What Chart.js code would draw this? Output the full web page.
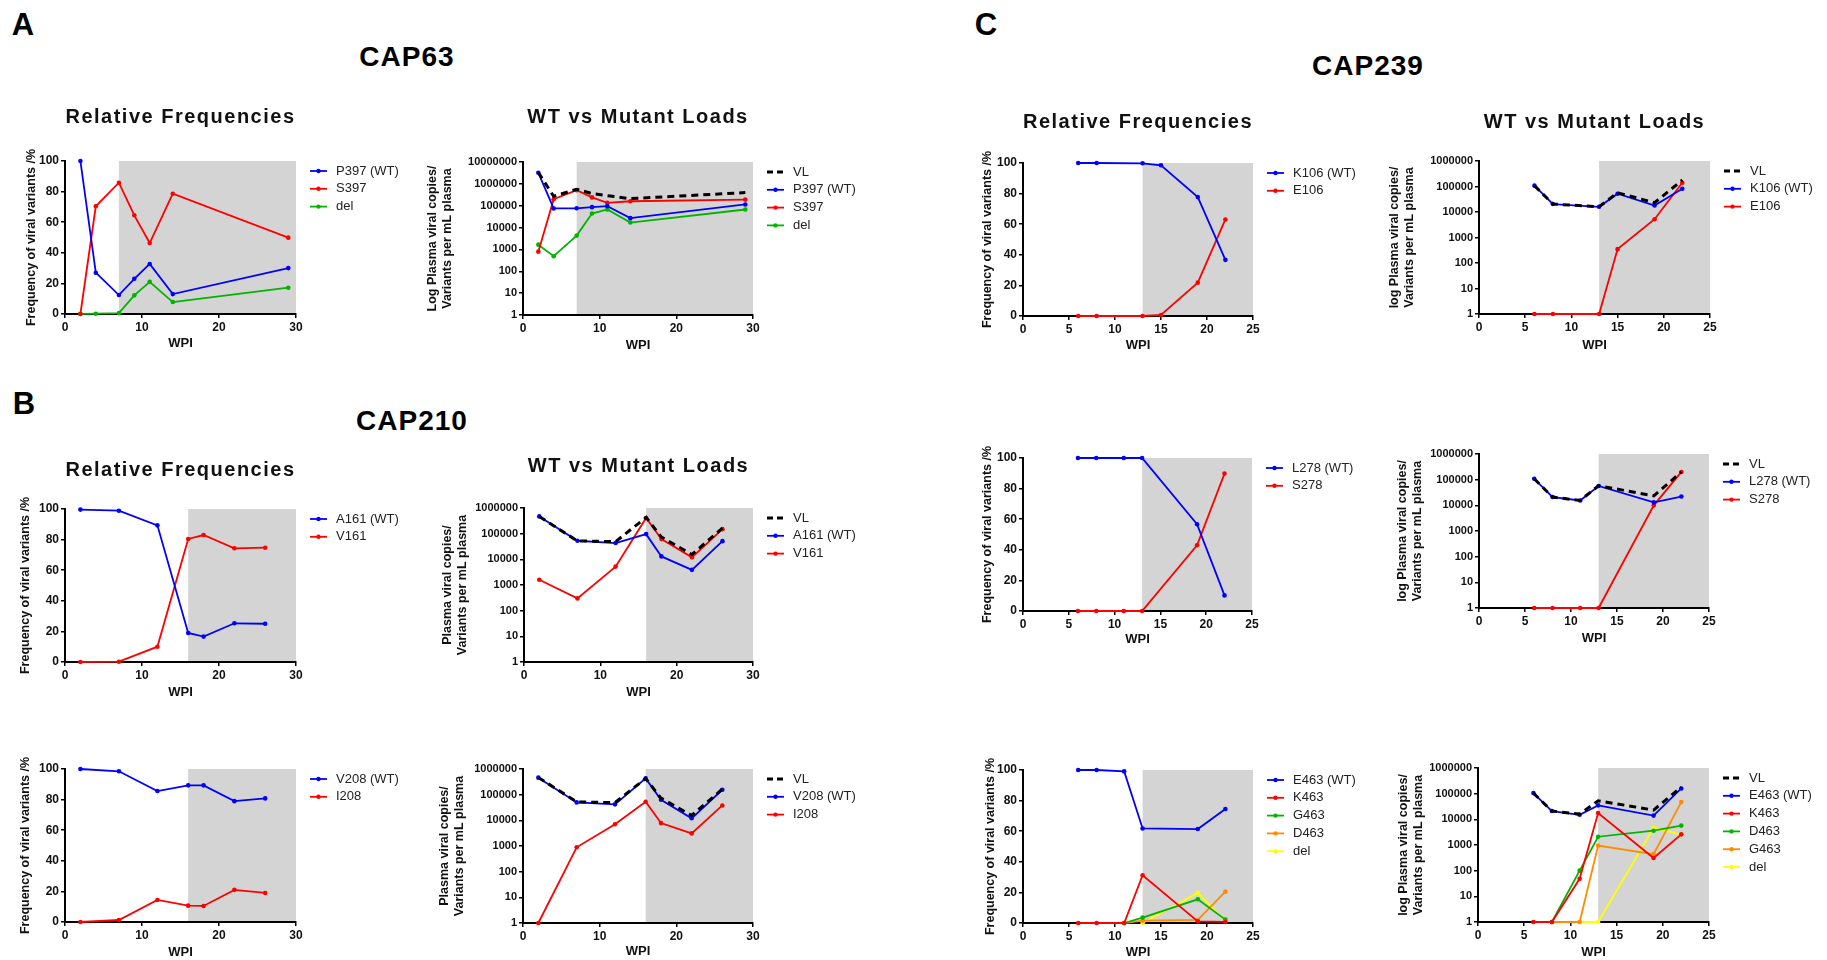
<!DOCTYPE html>
<html>
<head>
<meta charset="utf-8">
<title>CAP63 / CAP210 / CAP239 variant frequencies and loads</title>
<script src="https://cdn.jsdelivr.net/npm/chart.js@4.4.1/dist/chart.umd.min.js"></script>
<style>
  html, body { margin: 0; background: #fff; }
  #figure { position: relative; width: 1827px; height: 960px; overflow: hidden; font-family: "Liberation Sans", Arial, sans-serif; }
  #figure canvas { position: absolute; }
  .tag { position: absolute; transform: translate(-50%, -50%); font-weight: bold; line-height: 1; white-space: nowrap; color: #000; }
  .panel { font-size: 31px; }
  .cap { font-size: 28px; letter-spacing: 1px; }
</style>
</head>
<body>
<div id="figure">
  <div class="tag panel" style="left:23px;top:24px">A</div>
  <div class="tag panel" style="left:24px;top:403px">B</div>
  <div class="tag panel" style="left:986px;top:24px">C</div>
  <div class="tag cap" style="left:407px;top:57px">CAP63</div>
  <div class="tag cap" style="left:412px;top:421px">CAP210</div>
  <div class="tag cap" style="left:1368px;top:66px">CAP239</div>
</div>
<script>
// ---------- data ----------
// CAP63, position 397
const cap63Wpi = [2, 4, 7, 9, 11, 14, 29];
const p397Freq = [100, 27, 12.4, 23, 32.7, 13, 30];
const s397Freq = [0, 70.4, 85.8, 64.5, 46.4, 78.6, 49.9];
const del397Freq = [0.1, 0.2, 0.6, 12.2, 21, 7.8, 17.2];
const cap63Vl = [3.3e6, 2.7e5, 5.7e5, 3.6e5, 2.9e5, 2.1e5, 4.0e5];
const p397Load = [3.2e6, 7.5e4, 7.6e4, 8.6e4, 9.6e4, 2.7e4, 1.14e5];
const s397Load = [790, 2.0e5, 5.1e5, 2.4e5, 1.35e5, 1.6e5, 1.9e5];
const del397Load = [1650, 490, 4300, 4.4e4, 6.8e4, 1.7e4, 6.7e4];

// CAP210, positions 161 and 208
const cap210Wpi = [2, 7, 12, 16, 18, 22, 26];
const a161Freq = [99.6, 98.9, 89.3, 19, 16.6, 25.3, 25];
const v161Freq = [0, 0.2, 10, 80.4, 83, 74.3, 74.7];
const cap210Vl = [4.7e5, 5.2e4, 4.9e4, 4.3e5, 7.3e4, 1.55e4, 1.65e5];
const a161Load = [4.7e5, 5.3e4, 4.3e4, 9.6e4, 1.3e4, 3.9e3, 5.1e4];
const v161Load = [1.6e3, 300, 5.2e3, 4.1e5, 6.2e4, 1.2e4, 1.5e5];
const v208Freq = [100, 98.5, 85.6, 89.3, 89.3, 79, 80.8];
const i208Freq = [0, 1.3, 14.4, 10.7, 10.5, 21, 19];
const v208Load = [4.6e5, 5.0e4, 4.2e4, 4.3e5, 6.3e4, 1.2e4, 1.55e5];
const i208Load = [1, 890, 7.0e3, 5.3e4, 7.8e3, 3.1e3, 3.8e4];

// CAP239, positions 106, 278 and 463
const k106Wpi = [6, 8, 13, 15, 19, 22];
const k106Freq = [100, 100, 99.8, 98.5, 77.7, 36.7];
const e106Freq = [0, 0, 0, 0.7, 21.8, 63.1];
const k106Vl = [1.08e5, 2.05e4, 1.6e4, 5.7e4, 2.3e4, 1.8e5];
const k106Load = [1.08e5, 2.05e4, 1.6e4, 5.2e4, 1.8e4, 8.2e4];
const e106Load = [1, 1, 1, 350, 5.2e3, 1.4e5];

const l278Wpi = [6, 8, 11, 13, 19, 22];
const l278Freq = [100, 100, 100, 100, 56.7, 10.2];
const s278Freq = [0, 0, 0, 0, 43, 89.8];
const l278Vl = [1.08e5, 2.1e4, 1.55e4, 5.8e4, 2.35e4, 2.0e5];
const l278Load = [1.08e5, 2.1e4, 1.55e4, 5.7e4, 1.3e4, 2.2e4];
const s278Load = [1, 1, 1, 1, 1.0e4, 2.0e5];

const e463Wpi = [6, 8, 11, 13, 19, 22];
const e463Freq = [100, 100, 99.1, 61.8, 61.4, 74.5];
const k463Freq = [0, 0, 0, 31.2, 1.1, 0.7];
const g463Freq = [null, null, 0, 3.5, 15.5, 2.2];
const d463Freq = [null, null, 0, 1.5, 2, 20.5];
const del463Freq = [null, null, null, 0, 19.7, 1.3];
const e463Vl = [1.05e5, 2.1e4, 1.6e4, 5.3e4, 2.3e4, 1.8e5];
const e463Load = [1.05e5, 2.1e4, 1.5e4, 3.5e4, 1.4e4, 1.6e5];
const k463Load = [1, 1, 48, 1.75e4, 310, 2.6e3];
const d463Load = [null, 1, 100, 2.1e3, 3.6e3, 5.7e3];
const g463Load = [null, 1, 1, 950, 440, 4.7e4];
const del463Load = [null, null, 1, 1, 4.6e3, 2.6e3];

const decades7 = [1, 10, 100, 1000, 10000, 100000, 1000000, 10000000];
const decades6 = [1, 10, 100, 1000, 10000, 100000, 1000000];

// ---------- styling ----------
const FONT = '"Liberation Sans", Arial, sans-serif';
Chart.defaults.font.family = FONT;
Chart.defaults.color = '#111';

const BLUE = '#0000ff';
const RED = '#ff0000';
const GREEN = '#00b400';
const ORANGE = '#ff8c00';
const YELLOW = '#ffff00';

// grey band behind the data, from a given WPI to the end of the axis
const shadePlugin = {
    id: 'shade',
    defaults: { color: '#d4d4d4' },
    beforeDraw(chart, args, opts) {
        if (opts.from == null) return;
        const { ctx, chartArea, scales } = chart;
        const x0 = scales.x.getPixelForValue(opts.from);
        const x1 = scales.x.getPixelForValue(scales.x.max);
        ctx.save();
        ctx.fillStyle = opts.color;
        ctx.fillRect(x0, chartArea.top, x1 - x0, chartArea.bottom - chartArea.top);
        ctx.restore();
    },
};

// legend to the right of the plot: short line with a dot, then the label
const sideLegend = {
    id: 'sideLegend',
    defaults: { dx: 14, dy: 10, gap: 17.8 },
    afterDraw(chart, args, opts) {
        const { ctx, chartArea } = chart;
        const x = chartArea.right + opts.dx;
        ctx.save();
        ctx.font = `13px ${FONT}`;
        ctx.textBaseline = 'middle';
        chart.data.datasets.forEach((ds, i) => {
            const y = chartArea.top + opts.dy + i * opts.gap;
            ctx.strokeStyle = ds.borderColor;
            ctx.lineWidth = ds.borderDash ? 3 : 1.8;
            ctx.setLineDash(ds.borderDash ? [6, 4] : []);
            ctx.beginPath();
            ctx.moveTo(x, y);
            ctx.lineTo(x + 17, y);
            ctx.stroke();
            if (!ds.borderDash) {
                ctx.fillStyle = ds.borderColor;
                ctx.beginPath();
                ctx.arc(x + 8.5, y, 2.2, 0, Math.PI * 2);
                ctx.fill();
            }
            ctx.fillStyle = '#222';
            ctx.fillText(ds.label, x + 26, y);
        });
        ctx.restore();
    },
};

// wide letter spacing on the chart title
const spacedTitle = {
    id: 'spacedTitle',
    defaults: { spacing: 1.5 },
    beforeDraw(chart, args, opts) {
        const block = chart.titleBlock;
        if (!block || block._spaced) return;
        const draw = block.draw.bind(block);
        block.draw = (area) => {
            chart.ctx.save();
            chart.ctx.letterSpacing = opts.spacing + 'px';
            draw(area);
            chart.ctx.restore();
        };
        block._spaced = true;
    },
};

function lineSeries(s, wpi) {
    const points = wpi
        .map((x, i) => ({ x, y: s.values[i] }))
        .filter((p) => p.y !== null && p.y !== undefined);
    if (s.dashed) {
        return {
            label: s.label, data: points, borderColor: '#000', backgroundColor: '#000',
            borderWidth: 3, borderDash: [7, 5], pointRadius: 0, tension: 0, clip: false,
        };
    }
    return {
        label: s.label, data: points, borderColor: s.color, backgroundColor: s.color,
        borderWidth: 1.8, pointRadius: 2.3, pointBorderWidth: 0, pointBackgroundColor: s.color,
        tension: 0, clip: false,
    };
}

function buildChart(spec) {
    const [cl, ct, cr, cb] = spec.frame;
    const [L, T, R, B] = spec.plot;
    const canvas = document.createElement('canvas');
    canvas.width = cr - cl;
    canvas.height = cb - ct;
    canvas.style.left = cl + 'px';
    canvas.style.top = ct + 'px';
    document.getElementById('figure').appendChild(canvas);

    const isLoad = spec.kind === 'load';
    const axisTitleFont = { size: 12.5, weight: 'bold' };

    const yScale = isLoad
        ? {
            type: 'logarithmic',
            min: 1,
            max: spec.yTicks[spec.yTicks.length - 1],
            afterBuildTicks: (s) => { s.ticks = spec.yTicks.map((v) => ({ value: v })); },
            ticks: { callback: (v) => String(v), padding: 2, font: { size: 11, weight: 'bold' }, color: '#111' },
            title: {
                display: true, text: [spec.yTitle, 'Variants per mL plasma'], font: axisTitleFont, color: '#111',
                padding: { top: spec.yTitleX - cl - 7.5, bottom: 0 },
            },
        }
        : {
            type: 'linear',
            min: 0,
            max: 100,
            ticks: { stepSize: 20, padding: 2, font: { size: 12, weight: 'bold' }, color: '#111' },
            title: {
                display: true, text: 'Frequency of viral variants /%', font: axisTitleFont, color: '#111',
                padding: { top: spec.yTitleX - cl - 7.5, bottom: 0 },
            },
        };
    Object.assign(yScale, {
        grid: { drawOnChartArea: false, drawTicks: true, tickLength: 4, color: '#000', lineWidth: 1.5 },
        border: { display: true, color: '#000', width: 2 },
        afterFit: (s) => { s.width = L - cl; },
    });

    return new Chart(canvas, {
        type: 'line',
        data: { datasets: spec.series.map((s) => lineSeries(s, spec.wpi)) },
        options: {
            responsive: false,
            animation: false,
            events: [],
            layout: { padding: { left: 0, right: cr - R, top: spec.title ? 0 : T - ct, bottom: 0 } },
            plugins: {
                legend: { display: false },
                tooltip: { enabled: false },
                title: spec.title
                    ? {
                        display: true, text: spec.title, fullSize: false, color: '#111',
                        font: { size: 20, weight: 'bold' },
                        padding: { top: spec.titleY - ct - 12, bottom: T - spec.titleY - 12 },
                    }
                    : { display: false },
                shade: { from: spec.shadeFrom },
            },
            scales: {
                x: {
                    type: 'linear',
                    min: 0,
                    max: spec.xMax,
                    ticks: { stepSize: spec.xStep, padding: 2, font: { size: 12, weight: 'bold' }, color: '#111' },
                    grid: { drawOnChartArea: false, drawTicks: true, tickLength: 4, color: '#000', lineWidth: 1.5 },
                    border: { display: true, color: '#000', width: 2 },
                    title: {
                        display: true, text: 'WPI', font: { size: 13, weight: 'bold' }, color: '#111',
                        padding: { top: 0, bottom: cb - spec.wpiY - 7.8 },
                    },
                    afterFit: (s) => { s.height = cb - B; },
                },
                y: yScale,
            },
        },
        plugins: [shadePlugin, sideLegend, spacedTitle],
    });
}

// ---------- panel A: CAP63 ----------
buildChart({
    kind: 'freq', frame: [0, 95, 420, 354], plot: [65, 161, 296, 314],
    title: 'Relative Frequencies', titleY: 117, yTitleX: 32, wpiY: 343,
    xMax: 30, xStep: 10, shadeFrom: 7, wpi: cap63Wpi,
    series: [
        { label: 'P397 (WT)', color: BLUE, values: p397Freq },
        { label: 'S397', color: RED, values: s397Freq },
        { label: 'del', color: GREEN, values: del397Freq },
    ],
});
buildChart({
    kind: 'load', frame: [420, 95, 905, 355], plot: [523, 162, 753, 315],
    title: 'WT vs Mutant Loads', titleY: 117, yTitleX: 433, wpiY: 345,
    yTitle: 'Log Plasma viral copies/', yTicks: decades7,
    xMax: 30, xStep: 10, shadeFrom: 7, wpi: cap63Wpi,
    series: [
        { label: 'VL', dashed: true, values: cap63Vl },
        { label: 'P397 (WT)', color: BLUE, values: p397Load },
        { label: 'S397', color: RED, values: s397Load },
        { label: 'del', color: GREEN, values: del397Load },
    ],
});

// ---------- panel B: CAP210 ----------
buildChart({
    kind: 'freq', frame: [0, 440, 420, 702], plot: [65, 509, 296, 662],
    title: 'Relative Frequencies', titleY: 470, yTitleX: 26, wpiY: 692,
    xMax: 30, xStep: 10, shadeFrom: 16, wpi: cap210Wpi,
    series: [
        { label: 'A161 (WT)', color: BLUE, values: a161Freq },
        { label: 'V161', color: RED, values: v161Freq },
    ],
});
buildChart({
    kind: 'load', frame: [420, 440, 905, 702], plot: [524, 508, 753, 662],
    title: 'WT vs Mutant Loads', titleY: 466, yTitleX: 448, wpiY: 692,
    yTitle: 'Plasma viral copies/', yTicks: decades6,
    xMax: 30, xStep: 10, shadeFrom: 16, wpi: cap210Wpi,
    series: [
        { label: 'VL', dashed: true, values: cap210Vl },
        { label: 'A161 (WT)', color: BLUE, values: a161Load },
        { label: 'V161', color: RED, values: v161Load },
    ],
});
buildChart({
    kind: 'freq', frame: [0, 745, 420, 960], plot: [65, 769, 296, 922],
    yTitleX: 26, wpiY: 952,
    xMax: 30, xStep: 10, shadeFrom: 16, wpi: cap210Wpi,
    series: [
        { label: 'V208 (WT)', color: BLUE, values: v208Freq },
        { label: 'I208', color: RED, values: i208Freq },
    ],
});
buildChart({
    kind: 'load', frame: [420, 745, 905, 960], plot: [523, 769, 753, 923],
    yTitleX: 445, wpiY: 951,
    yTitle: 'Plasma viral copies/', yTicks: decades6,
    xMax: 30, xStep: 10, shadeFrom: 16, wpi: cap210Wpi,
    series: [
        { label: 'VL', dashed: true, values: cap210Vl },
        { label: 'V208 (WT)', color: BLUE, values: v208Load },
        { label: 'I208', color: RED, values: i208Load },
    ],
});

// ---------- panel C: CAP239 ----------
buildChart({
    kind: 'freq', frame: [960, 95, 1375, 356], plot: [1023, 163, 1253, 316],
    title: 'Relative Frequencies', titleY: 122, yTitleX: 988, wpiY: 345,
    xMax: 25, xStep: 5, shadeFrom: 13, wpi: k106Wpi,
    series: [
        { label: 'K106 (WT)', color: BLUE, values: k106Freq },
        { label: 'E106', color: RED, values: e106Freq },
    ],
});
buildChart({
    kind: 'load', frame: [1375, 95, 1827, 354], plot: [1479, 161, 1710, 314],
    title: 'WT vs Mutant Loads', titleY: 122, yTitleX: 1395, wpiY: 345,
    yTitle: 'log Plasma viral copies/', yTicks: decades6,
    xMax: 25, xStep: 5, shadeFrom: 13, wpi: k106Wpi,
    series: [
        { label: 'VL', dashed: true, values: k106Vl },
        { label: 'K106 (WT)', color: BLUE, values: k106Load },
        { label: 'E106', color: RED, values: e106Load },
    ],
});
buildChart({
    kind: 'freq', frame: [960, 430, 1375, 651], plot: [1023, 458, 1252, 611],
    yTitleX: 988, wpiY: 639,
    xMax: 25, xStep: 5, shadeFrom: 13, wpi: l278Wpi,
    series: [
        { label: 'L278 (WT)', color: BLUE, values: l278Freq },
        { label: 'S278', color: RED, values: s278Freq },
    ],
});
buildChart({
    kind: 'load', frame: [1375, 430, 1827, 648], plot: [1479, 454, 1709, 608],
    yTitleX: 1403, wpiY: 638,
    yTitle: 'log Plasma viral copies/', yTicks: decades6,
    xMax: 25, xStep: 5, shadeFrom: 13, wpi: l278Wpi,
    series: [
        { label: 'VL', dashed: true, values: l278Vl },
        { label: 'L278 (WT)', color: BLUE, values: l278Load },
        { label: 'S278', color: RED, values: s278Load },
    ],
});
buildChart({
    kind: 'freq', frame: [960, 745, 1375, 960], plot: [1023, 770, 1253, 923],
    yTitleX: 991, wpiY: 952,
    xMax: 25, xStep: 5, shadeFrom: 13, wpi: e463Wpi,
    series: [
        { label: 'E463 (WT)', color: BLUE, values: e463Freq },
        { label: 'K463', color: RED, values: k463Freq },
        { label: 'G463', color: GREEN, values: g463Freq },
        { label: 'D463', color: ORANGE, values: d463Freq },
        { label: 'del', color: YELLOW, values: del463Freq },
    ],
});
buildChart({
    kind: 'load', frame: [1375, 745, 1827, 960], plot: [1478, 768, 1709, 922],
    yTitleX: 1404, wpiY: 952,
    yTitle: 'log Plasma viral copies/', yTicks: decades6,
    xMax: 25, xStep: 5, shadeFrom: 13, wpi: e463Wpi,
    series: [
        { label: 'VL', dashed: true, values: e463Vl },
        { label: 'E463 (WT)', color: BLUE, values: e463Load },
        { label: 'K463', color: RED, values: k463Load },
        { label: 'D463', color: GREEN, values: d463Load },
        { label: 'G463', color: ORANGE, values: g463Load },
        { label: 'del', color: YELLOW, values: del463Load },
    ],
});
</script>
</body>
</html>
